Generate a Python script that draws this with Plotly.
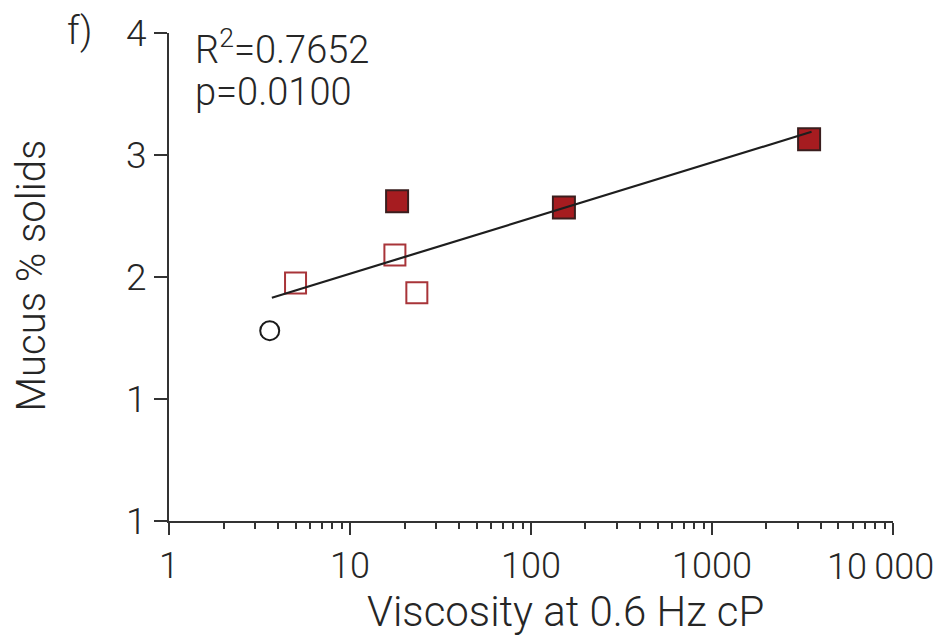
import plotly.graph_objects as go

# Data
circle_x = [3.6]
circle_y = [1.56]

open_sq_x = [5.0, 17.7, 23.4]
open_sq_y = [1.95, 2.18, 1.87]

filled_sq_x = [18.2, 152, 3440]
filled_sq_y = [2.62, 2.57, 3.13]

fit_x = [3.7, 3550]
fit_y = [1.83, 3.19]

x_tickvals = [1, 10, 100, 1000, 10000]
x_ticktext = ["1", "10", "100", "1000", "10\u2009000"]
y_tickvals = [0, 1, 2, 3, 4]
y_ticktext = ["1", "1", "2", "3", "4"]

FONT = "Roboto"
W = 300
TXT = "#262626"
AX = "#333333"

fig = go.Figure()
fig.add_trace(go.Scatter(
    x=circle_x, y=circle_y, mode="markers",
    marker=dict(symbol="circle", size=19, color="white",
                line=dict(color="#1a1a1a", width=2)),
    showlegend=False))
fig.add_trace(go.Scatter(
    x=open_sq_x, y=open_sq_y, mode="markers",
    marker=dict(symbol="square", size=21, color="white",
                line=dict(color="#a83439", width=2)),
    showlegend=False))
fig.add_trace(go.Scatter(
    x=filled_sq_x, y=filled_sq_y, mode="markers",
    marker=dict(symbol="square", size=22, color="#a61c20",
                line=dict(color="#3a1e1e", width=2)),
    showlegend=False))
fig.add_trace(go.Scatter(
    x=fit_x, y=fit_y, mode="lines",
    line=dict(color="#1e1e1e", width=2.2),
    showlegend=False))

fig.update_layout(
    width=946, height=636,
    margin=dict(l=169, r=53, t=33, b=115),
    plot_bgcolor="white", paper_bgcolor="white",
    font=dict(family=FONT, color=TXT, size=36, weight=W),
)
# last tick label is drawn as an annotation (nudged left) so it stays inside the page
fig.update_xaxes(
    type="log", range=[-0.0002, 4.0002], automargin=False,
    showgrid=False, zeroline=False,
    showline=True, linecolor=AX, linewidth=2,
    ticks="outside", ticklen=12, tickwidth=2, tickcolor=AX,
    tickvals=x_tickvals, ticktext=x_ticktext[:-1] + [""],
    tickfont=dict(family=FONT, size=36, color=TXT, weight=W),
    minor=dict(ticks="outside", ticklen=6, tickwidth=2, tickcolor=AX,
               dtick="D1", showgrid=False),
)
fig.update_yaxes(
    range=[0, 4], automargin=False,
    showgrid=False, zeroline=False,
    showline=True, linecolor=AX, linewidth=2,
    ticks="outside", ticklen=13, tickwidth=2, tickcolor=AX,
    tickvals=y_tickvals, ticktext=y_ticktext,
    tickfont=dict(family=FONT, size=37, color=TXT, weight=W),
)

import math
fig.add_annotation(text=x_ticktext[-1], xref="x", yref="paper",
                   x=math.log10(x_tickvals[-1]), y=0, xanchor="center", yanchor="middle",
                   xshift=-12, yshift=-46,
                   showarrow=False, font=dict(family=FONT, size=36, color=TXT, weight=W))
fig.add_annotation(text="Viscosity at 0.6 Hz cP", xref="paper", yref="paper",
                   x=0.548, y=-0.186, xanchor="center", yanchor="middle",
                   showarrow=False, font=dict(family=FONT, size=42, color=TXT, weight=W))
fig.add_annotation(text="Mucus % solids", xref="paper", yref="paper",
                   x=-0.19, y=0.504, xanchor="center", yanchor="middle",
                   textangle=-90, showarrow=False,
                   font=dict(family=FONT, size=40, color=TXT, weight=W))
fig.add_annotation(text="f)", xref="paper", yref="paper",
                   x=-0.123, y=1.005, xanchor="center", yanchor="middle",
                   showarrow=False, font=dict(family=FONT, size=38, color=TXT, weight=W))
fig.add_annotation(text="R<sup>2</sup>=0.7652", xref="paper", yref="paper",
                   x=0.033, y=(521 - 47) / 488, xanchor="left", yanchor="middle",
                   showarrow=False, font=dict(family=FONT, size=38, color=TXT, weight=W))
fig.add_annotation(text="p=0.0100", xref="paper", yref="paper",
                   x=0.033, y=(521 - 92) / 488, xanchor="left", yanchor="middle",
                   showarrow=False, font=dict(family=FONT, size=38, color=TXT, weight=W))

fig.write_html("out.html")
